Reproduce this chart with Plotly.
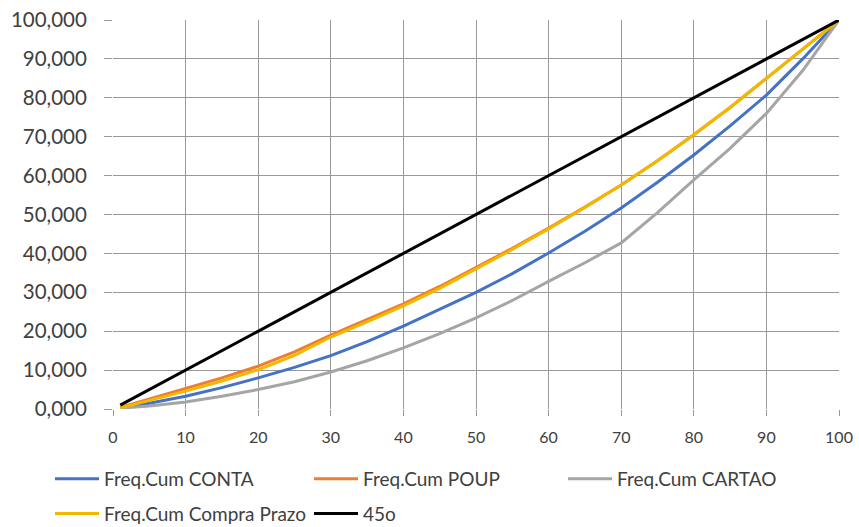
import plotly.graph_objects as go

x_pts = [1, 5, 10, 15, 20, 25, 30, 35, 40, 45, 50, 55, 60, 65, 70, 75, 80, 85, 90, 95, 100]
conta = [0.3, 1.5, 3.3, 5.5, 8.0, 10.7, 13.7, 17.3, 21.3, 25.6, 30.0, 34.8, 40.1, 45.7, 51.7, 58.3, 65.3, 72.8, 80.7, 90.0, 100.0]
poup = [0.4, 2.6, 5.2, 8.0, 11.0, 14.7, 19.0, 22.9, 27.0, 31.5, 36.3, 41.3, 46.5, 51.9, 57.6, 63.8, 70.5, 77.5, 85.0, 92.5, 100.0]
cartao = [0.2, 0.8, 1.8, 3.3, 5.0, 7.0, 9.5, 12.4, 15.7, 19.4, 23.4, 27.9, 32.8, 37.6, 42.7, 50.5, 58.9, 67.0, 76.0, 87.0, 100.0]
compra = [0.3, 2.2, 4.6, 7.2, 10.1, 13.8, 18.5, 22.4, 26.5, 31.0, 35.9, 41.0, 46.3, 51.8, 57.6, 63.8, 70.5, 77.5, 85.0, 92.5, 100.0]
diag_x = [1, 100]
diag_y = [1, 100]
x_ticks = [0, 10, 20, 30, 40, 50, 60, 70, 80, 90, 100]
y_ticks = [0, 10, 20, 30, 40, 50, 60, 70, 80, 90, 100]

names = ["Freq.Cum CONTA", "Freq.Cum POUP", "Freq.Cum CARTAO", "Freq.Cum Compra Prazo", "45o"]
colors = ["#4472C4", "#ED7D31", "#A5A5A5", "#F2B800", "#000000"]
# legend column of each series (laid out like the original's 3-column legend)
legends = ["legend", "legend2", "legend3", "legend", "legend2"]

fig = go.Figure()
series = [conta, poup, cartao, compra]
for i, (name, ys, col, lg) in enumerate(zip(names[:4], series, colors[:4], legends[:4])):
    fig.add_trace(go.Scatter(x=x_pts, y=ys, mode="lines", name=name, legend=lg,
                             legendgroup=f"g{i}", line=dict(color=col, width=3)))
fig.add_trace(go.Scatter(x=diag_x, y=diag_y, mode="lines", name=names[4], legend=legends[4],
                         legendgroup="g4", line=dict(color=colors[4], width=3)))

leg_common = dict(orientation="v", xref="container", yref="container",
                  xanchor="left", yanchor="middle",
                  font=dict(size=19, color="#404040", family="Lato"),
                  itemwidth=44, tracegroupgap=7,
                  traceorder="grouped", bgcolor="rgba(0,0,0,0)")

row1, row2 = 479, 514
fig.update_layout(
    width=859, height=527,
    margin=dict(l=113, r=20, t=20, b=117.5, autoexpand=False),
    paper_bgcolor="white", plot_bgcolor="white",
    separators=",.",
    font=dict(family="Lato", color="#404040"),
    legend=dict(x=50 / 859, y=1 - (row1 + row2) / 2 / 527, **leg_common),
    legend2=dict(x=309 / 859, y=1 - (row1 + row2) / 2 / 527, **leg_common),
    legend3=dict(x=563 / 859, y=1 - row1 / 527, **leg_common),
)
fig.update_xaxes(range=[0, 100], tickvals=x_ticks, automargin=False,
                 showgrid=True, gridcolor="#999999", gridwidth=1,
                 ticks="outside", ticklen=6, tickcolor="#999999", ticklabelstandoff=8,
                 tickfont=dict(size=16, color="#404040", family="Lato"),
                 showline=False, zeroline=False)
fig.update_yaxes(range=[0, 100], tickvals=y_ticks, automargin=False,
                 tickformat=".3f",
                 showgrid=True, gridcolor="#999999", gridwidth=1,
                 ticks="outside", ticklen=8, tickcolor="#999999", ticklabelstandoff=13,
                 tickfont=dict(size=20.5, color="#404040", family="Lato"),
                 showline=False, zeroline=False)

fig.write_html("out.html")
